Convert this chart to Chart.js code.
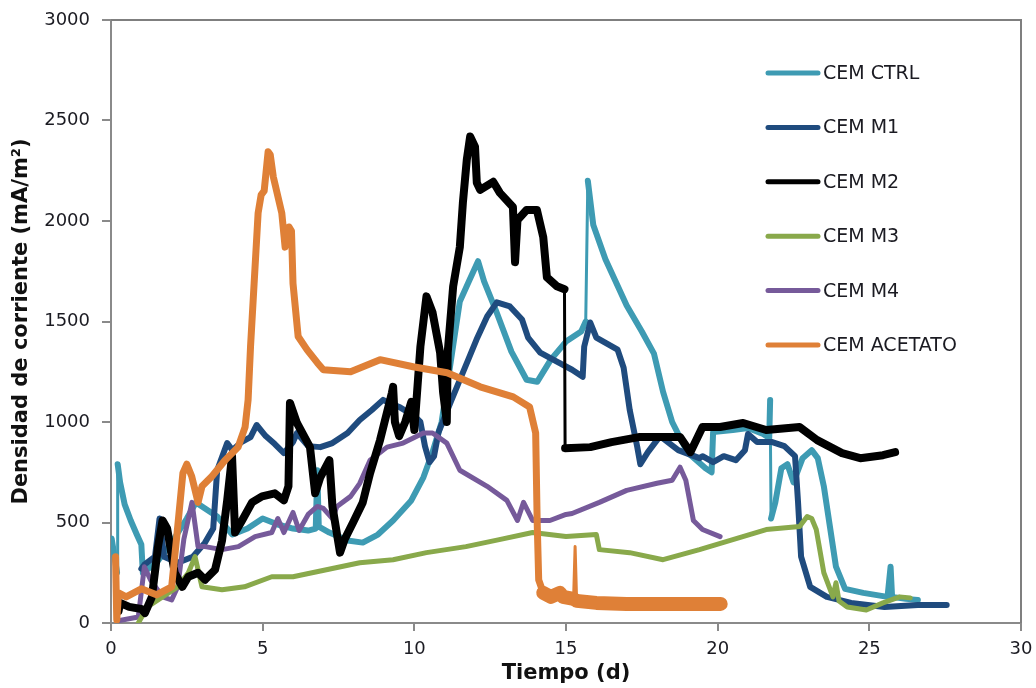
<!DOCTYPE html>
<html>
<head>
<meta charset="utf-8">
<script src="https://cdn.jsdelivr.net/npm/chart.js@4/dist/chart.umd.min.js"></script>
<style>
  html, body { margin: 0; padding: 0; background: #fff; }
  #wrap { width: 1036px; height: 688px; }
</style>
</head>
<body>
<div id="wrap"><canvas id="c" width="1036" height="688"></canvas></div>
<script>
const seriesNames = ['CEM CTRL', 'CEM M1', 'CEM M2', 'CEM M3', 'CEM M4', 'CEM ACETATO'];
const xTicks = [0, 5, 10, 15, 20, 25, 30];
const yTicks = [0, 500, 1000, 1500, 2000, 2500, 3000];

const ctrlX = [0.02,0.15,0.2,0.22,0.3,0.45,0.65,0.85,1.0,1.05,1.5,2.0,2.5,2.8,3.2,3.5,4.0,4.5,5.0,5.5,6.0,6.5,6.75,6.8,6.85,7.2,7.8,8.3,8.8,9.3,9.9,10.3,10.6,10.9,11.2,11.5,11.8,12.1,12.3,12.7,13.2,13.7,14.05,14.5,15.0,15.5,15.65,15.72,15.9,16.3,17.0,17.5,17.9,18.2,18.5,19.0,19.6,19.8,19.85,20.5,21.0,21.5,21.7,21.73,21.76,21.9,22.1,22.3,22.5,22.8,23.1,23.3,23.5,23.7,23.9,24.2,24.8,25.6,25.7,25.75,26.2,26.6];
const ctrlY = [420,300,250,790,700,590,510,440,390,250,300,400,520,600,560,530,440,470,520,490,470,460,470,760,480,450,410,400,440,510,610,725,850,1000,1300,1600,1700,1800,1700,1550,1350,1210,1200,1310,1400,1450,1500,2200,1980,1810,1580,1450,1340,1150,1000,850,770,750,950,960,970,940,920,1110,520,600,770,790,700,820,860,820,680,480,280,170,150,130,280,130,120,115];

const m1X = [1.0,1.1,1.45,1.6,1.75,2.2,2.7,3.1,3.37,3.5,3.83,4.0,4.3,4.6,4.8,5.1,5.4,5.7,6.0,6.13,6.5,6.9,7.3,7.8,8.2,8.6,8.97,9.5,10.0,10.2,10.35,10.5,10.65,10.8,11.2,11.5,11.75,12.05,12.4,12.72,13.15,13.55,13.75,14.15,14.7,15.2,15.55,15.6,15.8,16.0,16.7,16.9,17.1,17.35,17.45,17.7,18.1,18.7,19.4,19.5,19.85,20.2,20.6,20.9,21.0,21.3,21.8,22.2,22.55,22.65,22.75,23.05,23.6,24.4,25.5,26.6,27.55];
const m1Y = [270,290,330,520,330,300,330,400,470,760,895,860,900,925,985,930,890,845,900,945,880,875,895,945,1010,1060,1110,1075,1030,1000,880,800,830,950,1100,1210,1300,1410,1525,1595,1575,1510,1420,1345,1300,1260,1225,1375,1495,1420,1360,1270,1060,875,790,850,930,860,820,830,800,830,810,860,940,900,900,880,830,600,330,180,130,100,80,90,90];

const m2X = [0.25,0.3,0.6,1.0,1.12,1.35,1.55,1.7,1.85,2.1,2.35,2.55,2.87,3.1,3.43,3.66,3.83,3.99,4.09,4.32,4.65,4.98,5.4,5.7,5.85,5.9,6.13,6.56,6.73,6.9,7.2,7.3,7.55,7.7,7.98,8.3,8.54,8.87,9.26,9.3,9.36,9.5,9.7,9.9,10.0,10.2,10.4,10.6,10.85,10.95,11.07,11.1,11.28,11.5,11.6,11.73,11.84,12.0,12.06,12.17,12.6,12.82,13.25,13.32,13.4,13.7,14.04,14.25,14.37,14.7,14.95,14.97,15.8,16.5,17.4,18.76,19.1,19.5,20.08,20.84,21.6,22.7,23.28,24.1,24.7,25.45,25.85];
const m2Y = [60,100,80,70,50,130,380,510,470,250,180,230,250,215,265,410,610,830,450,510,600,630,645,610,680,1095,995,875,645,725,810,580,350,415,500,600,745,910,1145,1175,1000,930,1000,1100,960,1375,1625,1545,1345,1145,1000,1345,1675,1870,2090,2305,2420,2370,2190,2155,2195,2140,2070,1795,2005,2055,2055,1920,1720,1675,1660,870,875,900,925,925,850,975,975,995,960,975,910,845,820,835,850];

const m3X = [0.9,1.2,1.7,2.2,2.55,2.77,3.0,3.66,4.4,5.3,6.0,7.1,8.2,9.3,10.4,11.7,12.8,13.9,15.0,16.0,16.1,17.1,18.2,19.4,20.5,21.6,22.7,22.95,23.1,23.25,23.5,23.8,23.9,24.0,24.27,24.9,25.45,26.0,26.35];
const m3Y = [0,80,130,180,250,330,180,165,180,230,230,265,300,315,350,380,415,450,430,440,365,350,315,365,415,465,480,530,520,465,250,130,200,110,80,65,100,130,125];

const m4X = [0.2,0.9,1.1,1.3,1.7,2.0,2.2,2.4,2.67,2.87,3.1,3.66,4.2,4.75,5.3,5.5,5.7,6.0,6.2,6.5,6.8,7.0,7.3,7.45,7.9,8.2,8.54,9.1,9.63,10.3,10.6,11.07,11.5,12.4,13.05,13.4,13.6,13.9,14.47,15.0,15.2,16.1,17.0,18.0,18.5,18.76,18.95,19.2,19.5,20.08];
const m4Y = [10,30,280,215,130,115,180,415,600,380,380,365,380,430,450,520,450,550,460,540,580,570,520,580,630,695,810,875,895,945,945,895,760,680,610,510,600,510,510,540,545,600,660,695,710,775,710,510,465,430];

const acetX = [0.15,0.19,0.25,0.5,1.0,1.5,2.0,2.18,2.37,2.5,2.66,2.87,3.0,3.33,3.76,4.19,4.42,4.52,4.6,4.85,4.95,5.05,5.18,5.25,5.35,5.63,5.74,5.87,5.95,6.0,6.17,6.46,6.8,7.0,7.9,8.87,9.96,11.08,12.17,13.26,13.8,14.0,14.05,14.1,14.25,14.5,14.8,14.9,15.25,15.3,15.35,16.0,17.0,18.0,19.0,20.1];
const acetY = [330,15,150,130,170,140,180,450,745,790,730,600,680,730,810,875,975,1110,1375,2040,2130,2150,2345,2330,2220,2040,1870,1970,1950,1690,1425,1360,1295,1260,1250,1310,1275,1245,1175,1125,1075,945,500,215,150,130,150,130,120,380,110,100,95,95,95,95];

const seriesX = [ctrlX, m1X, m2X, m3X, m4X, acetX];
const seriesY = [ctrlY, m1Y, m2Y, m3Y, m4Y, acetY];
const colors = ['#3E9BB3', '#1F4B7E', '#000000', '#89A94B', '#765A9A', '#DF8037'];
const widths = [6, 6, 8, 5, 5, 7];
const orders = [6, 5, 2, 3, 4, 1];

function segWidth(i) {
  return (c) => {
    const a = c.p0.parsed, b = c.p1.parsed;
    const dx = Math.abs(b.x - a.x), dy = Math.abs(b.y - a.y);
    if (dx < 0.08 && dy > 500) return 3;
    if (i === 5 && a.x >= 14.2 && dy < 100) return 14;
    if (i === 5 && a.x >= 14.2) return 3;
    return widths[i];
  };
}

const datasets = seriesNames.map((name, i) => ({
  label: name,
  data: seriesX[i].map((x, j) => ({ x: x, y: seriesY[i][j] })),
  showLine: true,
  borderColor: colors[i],
  backgroundColor: colors[i],
  borderWidth: widths[i],
  segment: { borderWidth: segWidth(i) },
  pointRadius: 0,
  borderJoinStyle: 'round',
  borderCapStyle: 'round',
  tension: 0,
  order: orders[i]
}));

const frame = {
  id: 'frame',
  afterDatasetsDraw(chart) {
    const { ctx, chartArea: a } = chart;
    ctx.save();
    ctx.strokeStyle = '#7f7f7f';
    ctx.lineWidth = 2;
    ctx.beginPath();
    ctx.moveTo(a.left, a.top);
    ctx.lineTo(a.right, a.top);
    ctx.lineTo(a.right, a.bottom);
    ctx.stroke();
    ctx.restore();
  },
  afterDraw(chart) {
    const { ctx } = chart;
    ctx.save();
    ctx.font = '19px "DejaVu Sans"';
    ctx.textBaseline = 'middle';
    ctx.textAlign = 'left';
    const y0 = 73, dy = 54.4;
    seriesNames.forEach((n, i) => {
      const y = y0 + dy * i;
      ctx.strokeStyle = colors[i];
      ctx.lineWidth = 5;
      ctx.lineCap = 'round';
      ctx.beginPath();
      ctx.moveTo(768, y);
      ctx.lineTo(818, y);
      ctx.stroke();
      ctx.fillStyle = '#1b1b22';
      ctx.fillText(n, 823, y + 1);
    });
    ctx.restore();
  }
};

new Chart(document.getElementById('c'), {
  type: 'scatter',
  data: { datasets },
  plugins: [frame],
  options: {
    responsive: false,
    animation: false,
    devicePixelRatio: 1,
    layout: { padding: { top: 20, right: 15, left: 0, bottom: 0 } },
    plugins: { legend: { display: false }, tooltip: { enabled: false } },
    scales: {
      x: {
        type: 'linear',
        min: 0, max: 30,
        afterBuildTicks(s) { s.ticks = xTicks.map(v => ({ value: v })); },
        afterFit(s) { s.height = 65; s.paddingLeft = 0; s.paddingRight = 0; },
        ticks: { color: '#1b1b22', font: { family: 'DejaVu Sans', size: 18 }, padding: 8, maxRotation: 0, callback: v => String(v) },
        grid: { drawOnChartArea: false, drawTicks: true, tickLength: 8, color: '#8a8a8a', lineWidth: 2 },
        border: { display: true, color: '#8a8a8a', width: 2 },
        title: { display: true, text: 'Tiempo (d)', color: '#111', font: { family: 'DejaVu Sans', size: 21, weight: 'bold' }, padding: { top: 0, bottom: 2 } }
      },
      y: {
        type: 'linear',
        min: 0, max: 3000,
        afterBuildTicks(s) { s.ticks = yTicks.map(v => ({ value: v })); },
        afterFit(s) { s.width = 111; s.paddingTop = 0; s.paddingBottom = 0; },
        ticks: { color: '#1b1b22', font: { family: 'DejaVu Sans', size: 18 }, padding: 12, callback: v => String(v) },
        grid: { drawOnChartArea: false, drawTicks: true, tickLength: 9, color: '#8a8a8a', lineWidth: 2 },
        border: { display: true, color: '#8a8a8a', width: 2 },
        title: { display: true, text: 'Densidad de corriente (mA/m²)', color: '#111', font: { family: 'DejaVu Sans', size: 21, weight: 'bold' }, padding: { top: 9, bottom: 0 } }
      }
    }
  }
});
</script>
</body>
</html>
